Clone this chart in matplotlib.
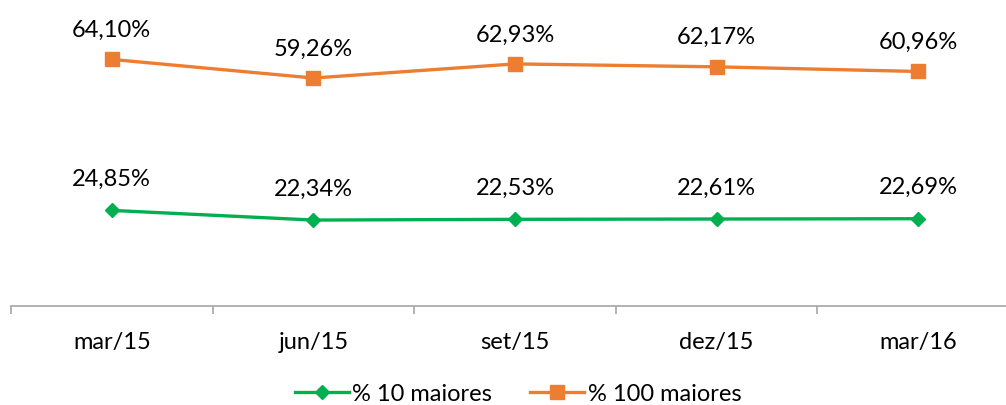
import matplotlib
matplotlib.use("Agg")
import matplotlib.pyplot as plt

categories = ["mar/15", "jun/15", "set/15", "dez/15", "mar/16"]
top10 = [24.85, 22.34, 22.53, 22.61, 22.69]
top100 = [64.10, 59.26, 62.93, 62.17, 60.96]
series_names = ["% 10 maiores", "% 100 maiores"]

plt.rcParams['font.family'] = ['Lato', 'DejaVu Sans']

fig = plt.figure(figsize=(10.06, 4.06), dpi=100)
ax = fig.add_axes([11/1006, 99/406, 1008/1006, (80*3.847)/406])

x = list(range(len(categories)))
green = "#00B050"
orange = "#ED7D31"

l1, = ax.plot(x, top10, color=green, lw=2.4, marker="D", ms=7.5, label=series_names[0])
l2, = ax.plot(x, top100, color=orange, lw=2.4, marker="s", ms=10, label=series_names[1])

def fmt(v):
    return f"{v:.2f}".replace(".", ",") + "%"

fs = 17
for xi, v in zip(x, top10):
    ax.annotate(fmt(v), (xi, v), xytext=(0, 32), textcoords="offset pixels",
                ha="center", va="center", fontsize=fs, color="#000000")
for xi, v in zip(x, top100):
    ax.annotate(fmt(v), (xi, v), xytext=(0, 30), textcoords="offset pixels",
                ha="center", va="center", fontsize=fs, color="#000000")

ax.set_xlim(-0.5, 4.5)
ax.set_ylim(0, 80)
for s in ["top", "right", "left"]:
    ax.spines[s].set_visible(False)
ax.spines["bottom"].set_color("#A6A6A6")
ax.spines["bottom"].set_linewidth(1.2)
ax.set_yticks([])
ax.set_xticks(x)
ax.set_xticklabels(categories, fontsize=fs)
ax.tick_params(axis="x", which="major", length=0, pad=18)
ax.set_xticks([i - 0.5 for i in range(len(categories) + 1)], minor=True)
ax.tick_params(axis="x", which="minor", length=6, width=1.2, color="#A6A6A6", direction="out")

fig.legend(handles=[l1, l2], loc="center", bbox_to_anchor=(518/1006, 1 - 395/406),
           ncol=2, frameon=False, fontsize=fs, handlelength=2.3, handletextpad=0.15,
           columnspacing=1.6)

fig.savefig("out.png", dpi=100)
